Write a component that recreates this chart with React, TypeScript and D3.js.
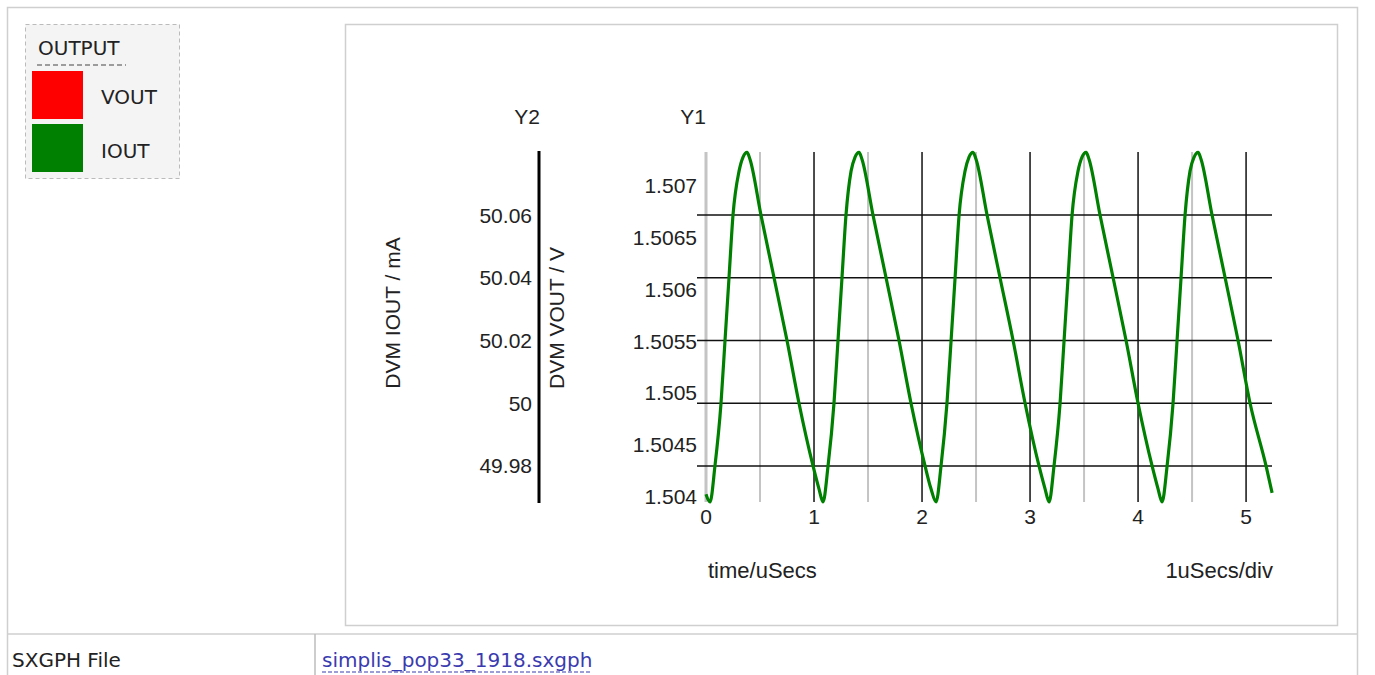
import React from 'react';
import * as d3 from 'd3';

// ---- data ----
const timeUs = [
  0, 0.037,
  0.083, 0.139, 0.176, 0.213, 0.25, 0.306, 0.343, 0.38, 0.407, 0.509, 0.63, 0.75, 0.861, 0.991, 1.046, 1.083,
  1.13, 1.185, 1.222, 1.259, 1.296, 1.343, 1.38, 1.417, 1.444, 1.546, 1.667, 1.787, 1.898, 2.028, 2.083, 2.13,
  2.176, 2.231, 2.269, 2.306, 2.343, 2.398, 2.435, 2.472, 2.5, 2.602, 2.722, 2.843, 2.954, 3.083, 3.139, 3.176,
  3.222, 3.278, 3.315, 3.352, 3.389, 3.444, 3.481, 3.519, 3.546, 3.648, 3.769, 3.889, 4.0, 4.13, 4.185, 4.222,
  4.269, 4.324, 4.361, 4.398, 4.435, 4.481, 4.519, 4.556, 4.583, 4.685, 4.806, 4.926, 5.037, 5.185, 5.241,
];
const ioutMa = [
  49.971, 49.9685,
  49.98, 50.0, 50.02, 50.04, 50.06, 50.074, 50.0785, 50.08, 50.0778, 50.06, 50.04, 50.02, 50.0, 49.98, 49.9727, 49.9685,
  49.98, 50.0, 50.02, 50.04, 50.06, 50.074, 50.0785, 50.08, 50.0778, 50.06, 50.04, 50.02, 50.0, 49.98, 49.9727, 49.9685,
  49.98, 50.0, 50.02, 50.04, 50.06, 50.074, 50.0785, 50.08, 50.0778, 50.06, 50.04, 50.02, 50.0, 49.98, 49.9727, 49.9685,
  49.98, 50.0, 50.02, 50.04, 50.06, 50.074, 50.0785, 50.08, 50.0778, 50.06, 50.04, 50.02, 50.0, 49.98, 49.9727, 49.9685,
  49.98, 50.0, 50.02, 50.04, 50.06, 50.074, 50.0785, 50.08, 50.0778, 50.06, 50.04, 50.02, 50.0, 49.98, 49.9714,
];
const xTicks = [0, 1, 2, 3, 4, 5];
const xHalfTicks = [0.5, 1.5, 2.5, 3.5, 4.5];
const y1Ticks = [1.504, 1.5045, 1.505, 1.5055, 1.506, 1.5065, 1.507];
const y2Ticks = [49.98, 50, 50.02, 50.04, 50.06];
const legendNames = ['VOUT', 'IOUT'];
const legendColors = ['#ff0000', '#008000'];

const AX_FONT = 'Arial, "Liberation Sans", sans-serif';
const UI_FONT = 'Verdana, "DejaVu Sans", sans-serif';

export default function App() {
  const x = d3.scaleLinear().domain([0, 5.24]).range([706, 1272]);
  const y2 = d3.scaleLinear().domain([49.9685, 50.0801]).range([502, 152]);
  const y1 = d3.scaleLinear().domain([1.50395, 1.50732]).range([502, 152]);
  const pts: [number, number][] = timeUs.map((t, i) => [t, ioutMa[i]]);
  const line = d3
    .line<[number, number]>()
    .x((d) => x(d[0]))
    .y((d) => y2(d[1]))
    .curve(d3.curveMonotoneX);
  const top = y2.range()[1];
  const bottom = y2.range()[0];

  return (
    <svg
      width={1375}
      height={675}
      style={{ position: 'absolute', left: 0, top: 0, background: '#fff' }}
    >
      {/* outer table */}
      <rect x={7.5} y={7.5} width={1350} height={700} fill="none" stroke="#cfcfcf" strokeWidth={1.5} />
      <line x1={7} x2={1358} y1={634} y2={634} stroke="#cfcfcf" strokeWidth={1.5} />
      <line x1={315} x2={315} y1={634} y2={675} stroke="#bdbdbd" strokeWidth={1.5} />
      <text x={12} y={667} fontFamily={UI_FONT} fontSize={20} fill="#222">SXGPH File</text>
      <text x={322} y={667} fontFamily={UI_FONT} fontSize={20} fill="#3b3bb0">simplis_pop33_1918.sxgph</text>
      <line x1={322} x2={592} y1={672} y2={672} stroke="#3b3bb0" strokeWidth={1.2} strokeDasharray="4,2" />

      {/* legend */}
      <rect x={25.5} y={24.5} width={154} height={154} fill="#f4f4f4" stroke="#bbb" strokeDasharray="4,3" />
      <text x={38} y={55} fontFamily={UI_FONT} fontSize={20} fill="#222">OUTPUT</text>
      <line x1={37} x2={126} y1={65} y2={65} stroke="#444" strokeWidth={1.2} strokeDasharray="5,3" />
      {legendNames.map((n, i) => (
        <g key={n}>
          <rect x={32} y={71 + i * 53} width={51} height={48} fill={legendColors[i]} />
          <text x={101} y={104 + i * 54} fontFamily={UI_FONT} fontSize={20} fill="#222">{n}</text>
        </g>
      ))}

      {/* chart box */}
      <rect x={345.5} y={24.5} width={992} height={601} fill="#fff" stroke="#cfcfcf" strokeWidth={1.5} />

      {/* vertical half-unit grid (grey) */}
      {[0, ...xHalfTicks].map((t) => (
        <line key={'h' + t} x1={x(t)} x2={x(t)} y1={top} y2={bottom} stroke="#c4c4c4" strokeWidth={t === 0 ? 3 : 2} />
      ))}
      {/* vertical unit grid (black) */}
      {xTicks.filter((t) => t > 0).map((t) => (
        <line key={'v' + t} x1={x(t)} x2={x(t)} y1={top} y2={bottom} stroke="#111" strokeWidth={1.5} />
      ))}
      {/* horizontal grid from Y2 */}
      {y2Ticks.map((v) => (
        <line key={'g' + v} x1={697} x2={1272} y1={y2(v)} y2={y2(v)} stroke="#111" strokeWidth={1.5} />
      ))}

      {/* Y2 axis */}
      <line x1={539} x2={539} y1={151} y2={503} stroke="#000" strokeWidth={3} />
      {y2Ticks.map((v) => (
        <text key={'y2' + v} x={532} y={y2(v)} textAnchor="end" dominantBaseline="central" fontFamily={AX_FONT} fontSize={21} fill="#222">
          {String(v)}
        </text>
      ))}
      {/* Y1 labels */}
      {y1Ticks.map((v) => (
        <text key={'y1' + v} x={697} y={y1(v)} textAnchor="end" dominantBaseline="central" fontFamily={AX_FONT} fontSize={21} fill="#222">
          {String(v)}
        </text>
      ))}
      {/* X labels */}
      {xTicks.map((t) => (
        <text key={'x' + t} x={x(t)} y={516} textAnchor="middle" dominantBaseline="central" fontFamily={AX_FONT} fontSize={21} fill="#222">
          {String(t)}
        </text>
      ))}

      {/* titles */}
      <text x={527} y={116} textAnchor="middle" dominantBaseline="central" fontFamily={AX_FONT} fontSize={21} fill="#222">Y2</text>
      <text x={693} y={116} textAnchor="middle" dominantBaseline="central" fontFamily={AX_FONT} fontSize={21} fill="#222">Y1</text>
      <text transform="translate(392,313) rotate(-90)" textAnchor="middle" dominantBaseline="central" fontFamily={AX_FONT} fontSize={21} fill="#222">DVM IOUT / mA</text>
      <text transform="translate(556,318) rotate(-90)" textAnchor="middle" dominantBaseline="central" fontFamily={AX_FONT} fontSize={21} fill="#222">DVM VOUT / V</text>
      <text x={708} y={570} dominantBaseline="central" fontFamily={AX_FONT} fontSize={22} fill="#222">time/uSecs</text>
      <text x={1273} y={570} textAnchor="end" dominantBaseline="central" fontFamily={AX_FONT} fontSize={22} fill="#222">1uSecs/div</text>

      {/* trace */}
      <path d={line(pts) || ''} fill="none" stroke="#008000" strokeWidth={3.2} strokeLinejoin="round" />
    </svg>
  );
}
